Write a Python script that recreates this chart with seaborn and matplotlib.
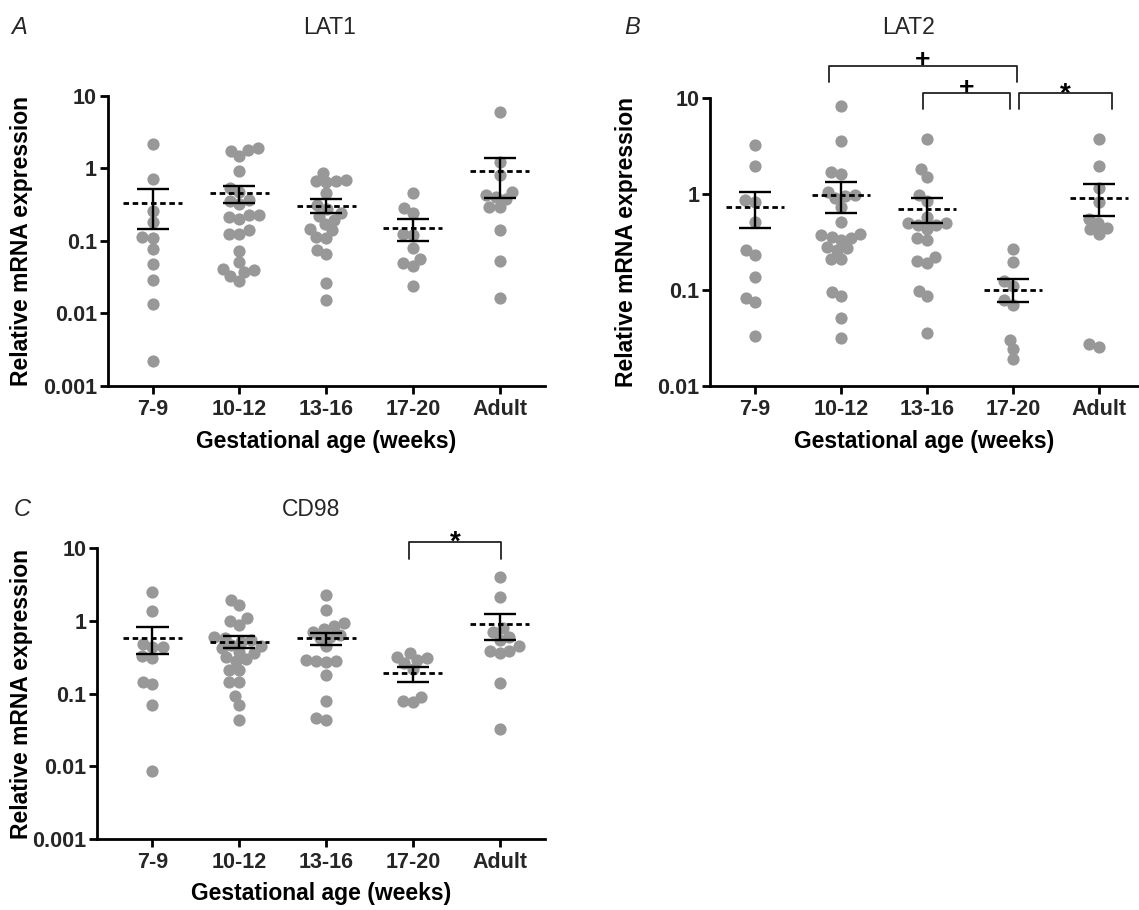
import numpy as np
import pandas as pd
import matplotlib
matplotlib.use("Agg")
import matplotlib.pyplot as plt
from matplotlib.ticker import NullLocator
import seaborn as sns

# ---------------- data ----------------
groups = ["7-9", "10-12", "13-16", "17-20", "Adult"]

lat1_7_9 = [2.15, 0.70, 0.255, 0.18, 0.11, 0.112, 0.076, 0.048, 0.0286, 0.0132, 0.0022]
lat1_10_12 = [1.87, 1.47, 1.72, 1.77, 0.92, 0.54, 0.47, 0.35, 0.36, 0.32, 0.224, 0.213,
              0.224, 0.20, 0.139, 0.123, 0.125, 0.073, 0.051, 0.037, 0.040, 0.039, 0.032, 0.028]
lat1_13_16 = [0.86, 0.66, 0.64, 0.68, 0.67, 0.45, 0.31, 0.27, 0.24, 0.22, 0.17, 0.19,
              0.14, 0.144, 0.11, 0.112, 0.075, 0.066, 0.026, 0.0153]
lat1_17_20 = [0.45, 0.28, 0.24, 0.125, 0.12, 0.079, 0.049, 0.055, 0.044, 0.024]
lat1_adult = [6.0, 1.22, 0.80, 0.40, 0.43, 0.47, 0.37, 0.29, 0.29, 0.139, 0.052, 0.016]
lat1_mean = [0.33, 0.456, 0.30, 0.15, 0.91]
lat1_sem_hi = [0.52, 0.575, 0.37, 0.197, 1.40]
lat1_sem_lo = [0.144, 0.335, 0.24, 0.099, 0.39]

lat2_7_9 = [3.26, 1.98, 0.87, 0.83, 0.515, 0.26, 0.23, 0.137, 0.082, 0.074, 0.033]
lat2_10_12 = [8.3, 3.58, 1.69, 1.62, 1.05, 0.98, 0.95, 0.90, 0.74, 0.515, 0.38, 0.36,
              0.35, 0.37, 0.33, 0.28, 0.27, 0.26, 0.21, 0.21, 0.095, 0.086, 0.051, 0.031]
lat2_13_16 = [3.73, 1.81, 1.50, 0.98, 0.85, 0.58, 0.47, 0.50, 0.50, 0.48, 0.43, 0.35,
              0.33, 0.22, 0.19, 0.20, 0.098, 0.086, 0.035]
lat2_17_20 = [0.265, 0.194, 0.122, 0.11, 0.078, 0.0695, 0.030, 0.024, 0.0187]
lat2_adult = [3.73, 1.96, 1.15, 0.83, 0.55, 0.50, 0.43, 0.38, 0.44, 0.025, 0.027]
lat2_mean = [0.74, 0.98, 0.69, 0.10, 0.90]
lat2_sem_hi = [1.04, 1.34, 0.90, 0.13, 1.26]
lat2_sem_lo = [0.44, 0.64, 0.50, 0.074, 0.59]

cd98_7_9 = [2.53, 1.39, 0.44, 0.33, 0.31, 0.48, 0.44, 0.136, 0.146, 0.07, 0.0085]
cd98_10_12 = [1.95, 1.66, 1.09, 0.88, 1.01, 0.55, 0.60, 0.58, 0.52, 0.45, 0.42, 0.46,
              0.38, 0.36, 0.30, 0.32, 0.28, 0.21, 0.21, 0.146, 0.146, 0.093, 0.07, 0.044]
cd98_13_16 = [2.28, 1.42, 0.93, 0.85, 0.78, 0.71, 0.61, 0.58, 0.65, 0.45, 0.29, 0.28,
              0.28, 0.27, 0.18, 0.08, 0.043, 0.046]
cd98_17_20 = [0.32, 0.29, 0.36, 0.31, 0.22, 0.26, 0.091, 0.076, 0.079]
cd98_adult = [4.0, 2.12, 0.79, 0.70, 0.61, 0.55, 0.39, 0.45, 0.39, 0.36, 0.14, 0.033]
cd98_mean = [0.59, 0.52, 0.59, 0.19, 0.90]
cd98_sem_hi = [0.835, 0.63, 0.676, 0.235, 1.25]
cd98_sem_lo = [0.35, 0.42, 0.47, 0.146, 0.55]

ticks_a = [0.001, 0.01, 0.1, 1, 10]
ticklabels_a = ["0.001", "0.01", "0.1", "1", "10"]
ticks_b = [0.01, 0.1, 1, 10]
ticklabels_b = ["0.01", "0.1", "1", "10"]

# ---------------- style ----------------
sns.set_theme(style="ticks")
plt.rcParams["font.family"] = ["Liberation Sans", "DejaVu Sans"]
GRAY = "#989898"
W, H = 1139, 910
SWARM_LAYOUT_SIZE = 7.0   # spacing used by the beeswarm (points)
DOT_SIZE = 8.8            # drawn dot diameter (points); dots overlap a little


def long_df(values_by_group):
    rows = [(g, v) for g, vals in zip(groups, values_by_group) for v in vals]
    return pd.DataFrame(rows, columns=["group", "value"])


def draw_panel(ax, df, mean, lo, hi, ylim, yticks, yticklabels, xlim, ylab_x, xlab_y):
    ax.set_yscale("log")
    ax.set_ylim(*ylim)
    sns.swarmplot(data=df, x="group", y="value", order=groups, color=GRAY,
                  size=SWARM_LAYOUT_SIZE, linewidth=0, ax=ax, zorder=2,
                  warn_thresh=1.0)
    ax.set_xlim(*xlim)
    ax.set_ylim(*ylim)
    pos = np.arange(len(groups))
    ax.hlines(mean, pos - 0.34, pos + 0.34, colors="black",
              linestyles=(0, (2.0, 1.3)), lw=2.0, zorder=4)
    ax.vlines(pos, lo, hi, colors="black", lw=1.7, zorder=4)
    ax.hlines(hi, pos - 0.185, pos + 0.185, colors="black", lw=1.7, zorder=4)
    ax.hlines(lo, pos - 0.185, pos + 0.185, colors="black", lw=1.7, zorder=4)

    ax.set_yticks(yticks)
    ax.set_yticklabels(yticklabels)
    ax.yaxis.set_minor_locator(NullLocator())
    for lab in ax.get_xticklabels() + ax.get_yticklabels():
        lab.set_fontweight("bold")
        lab.set_fontsize(15.5)
    ax.tick_params(axis="both", direction="out", length=5.5, width=2.0, color="black")
    ax.tick_params(axis="x", pad=4)
    ax.tick_params(axis="y", pad=2)
    for s in ["left", "bottom"]:
        ax.spines[s].set_linewidth(2.0)
        ax.spines[s].set_color("black")
    sns.despine(ax=ax)
    ax.set_ylabel("Relative mRNA expression", fontsize=16.5, fontweight="bold", color="black")
    ax.set_xlabel("Gestational age (weeks)", fontsize=16.5, fontweight="bold", color="black")
    ax.yaxis.set_label_coords(ylab_x, 0.5)
    ax.yaxis.label.set_va("center")
    ax.xaxis.set_label_coords(0.5, xlab_y)
    ax.xaxis.label.set_va("center")


def bracket(ax, x1, x2, ybar, ydrop, sym, dy, fs, weight):
    ax.plot([x1, x1, x2, x2], [ydrop, ybar, ybar, ydrop], color="#222222",
            lw=1.3, clip_on=False, zorder=5)
    ax.annotate(sym, xy=((x1 + x2) / 2, ybar), xytext=(0, dy), textcoords="offset points",
                ha="center", va="baseline", fontsize=fs, fontweight=weight,
                annotation_clip=False, color="black")


fig = plt.figure(figsize=(W / 100, H / 100), dpi=100)


def axes_px(left, right, top, bottom):
    return fig.add_axes([left / W, 1 - bottom / H, (right - left) / W, (bottom - top) / H])


ax_a = axes_px(107.5, 544.7, 95.7, 385.5)
ax_b = axes_px(710.0, 1139.0, 98.3, 385.5)
ax_c = axes_px(97.0, 544.6, 548.3, 839.0)

draw_panel(ax_a, long_df([lat1_7_9, lat1_10_12, lat1_13_16, lat1_17_20, lat1_adult]),
           lat1_mean, lat1_sem_lo, lat1_sem_hi, (0.001, 10), ticks_a, ticklabels_a,
           (-0.52, 4.52), -0.197, -0.194)
draw_panel(ax_b, long_df([lat2_7_9, lat2_10_12, lat2_13_16, lat2_17_20, lat2_adult]),
           lat2_mean, lat2_sem_lo, lat2_sem_hi, (0.01, 10), ticks_b, ticklabels_b,
           (-0.523, 4.465), -0.195, -0.196)
draw_panel(ax_c, long_df([cd98_7_9, cd98_10_12, cd98_13_16, cd98_17_20, cd98_adult]),
           cd98_mean, cd98_sem_lo, cd98_sem_hi, (0.001, 10), ticks_a, ticklabels_a,
           (-0.639, 4.518), -0.169, -0.186)

# significance brackets
bracket(ax_b, 0.865, 3.044, 21.9, 14.9, "+", -1, 19, "bold")
bracket(ax_b, 1.95, 2.967, 11.3, 7.67, "+", -1, 19, "bold")
bracket(ax_b, 3.066, 4.148, 11.3, 7.67, "*", -6, 20, "bold")
bracket(ax_c, 2.95, 4.02, 12.4, 7.06, "*", -6, 20, "bold")

# panel letters and titles
def ftext(x, y, s, **kw):
    fig.text(x / W, 1 - y / H, s, ha="center", va="center", **kw)

ftext(19, 27, "A", fontsize=17, style="italic")
ftext(330, 27, "LAT1", fontsize=16.5)
ftext(632, 27, "B", fontsize=17, style="italic")
ftext(909, 27, "LAT2", fontsize=16.5)
ftext(22, 510, "C", fontsize=17, style="italic")
ftext(311, 510, "CD98", fontsize=16.5)

# let seaborn lay out the swarms once (tight spacing), then freeze them and
# draw the dots slightly larger so that neighbours overlap as in the reference
fig.canvas.draw()
for ax in (ax_a, ax_b, ax_c):
    for coll in ax.collections:
        if "draw" in coll.__dict__:
            del coll.draw
            coll.set_sizes([DOT_SIZE ** 2])

fig.savefig("out.png", dpi=100, facecolor="white")
